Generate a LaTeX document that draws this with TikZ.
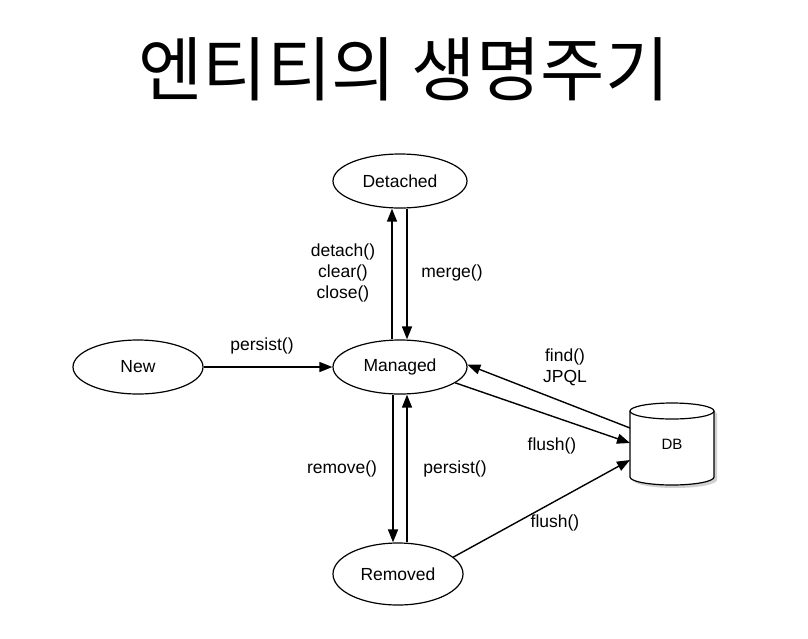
\documentclass[tikz,border=0pt]{standalone}
\usepackage{fontspec}
\setmainfont{Liberation Sans}
\newfontfamily\krfont{Noto Sans CJK KR}
\usetikzlibrary{arrows.meta,shapes.geometric}
\begin{document}
\begin{tikzpicture}[x=1pt,y=-1pt,
  state/.style={ellipse,draw,line width=1.2pt,inner sep=0pt,minimum width=134pt,minimum height=54pt,font=\fontsize{17.5}{20}\selectfont},
  arr/.style={line width=1.4pt,-{Triangle[length=13pt,width=10pt]}},
  lbl/.style={font=\fontsize{17.5}{21}\selectfont,align=center,inner sep=0pt}]
\useasboundingbox (0,0) rectangle (808,638);
\node[font=\krfont\fontsize{70}{76}\selectfont] (title) at (404,69) {엔티티의 생명주기};
\node[state] (detached) at (400,181) {Detached};
\node[state,minimum width=130pt] (new) at (138,367) {New};
\node[state] (managed) at (400,367) {Managed};
\node[state,minimum width=130pt,minimum height=62pt] (removed) at (398,574) {Removed};
% DB cylinder
\node[draw=none,minimum width=84pt,minimum height=82pt,inner sep=0pt] (db) at (672,444) {};
\fill[black!18] (633,414) -- (633,480) arc[start angle=180,end angle=0,x radius=42,y radius=8] -- (717,414) arc[start angle=0,end angle=-180,x radius=42,y radius=8] -- cycle;
\filldraw[fill=white,line width=1.2pt] (630,411) -- (630,477) arc[start angle=180,end angle=0,x radius=42,y radius=8] -- (714,411) arc[start angle=0,end angle=-180,x radius=42,y radius=8] -- cycle;
\draw[line width=1.2pt] (630,411) arc[start angle=180,end angle=0,x radius=42,y radius=8];
\node[font=\fontsize{15}{18}\selectfont] (dbl) at (db) {DB};
\coordinate (dbA) at (630,428);
\coordinate (dbB) at (630,443);
\coordinate (dbC) at (630,460);
% arrows
\draw[arr] ([xshift=-8pt]managed.north) -- ([xshift=-8pt]detached.south);
\draw[arr] ([xshift=7pt]detached.south) -- ([xshift=7pt]managed.north);
\draw[arr] (new.east) -- (managed.west);
\draw[arr] ([xshift=-7pt]managed.south) -- ([xshift=-5pt]removed.north);
\draw[arr] ([xshift=9pt]removed.north) -- ([xshift=7pt]managed.south);
\draw[arr] (dbA) -- (managed.2);
\draw[arr] (managed.-16) -- (dbB);
\draw[arr] (removed.17) -- (dbC);
% labels
\node[lbl] (l1) at (343,273) {detach()\\clear()\\close()};
\node[lbl] (l2) at (452,273) {merge()};
\node[lbl] (l3) at (262,346) {persist()};
\node[lbl] (l4) at (342,469) {remove()};
\node[lbl] (l5) at (455,469) {persist()};
\node[lbl] (l6) at (565,367) {find()\\JPQL};
\node[lbl] (l7) at (552,446) {flush()};
\node[lbl] (l8) at (555,523) {flush()};
\end{tikzpicture}
\end{document}
